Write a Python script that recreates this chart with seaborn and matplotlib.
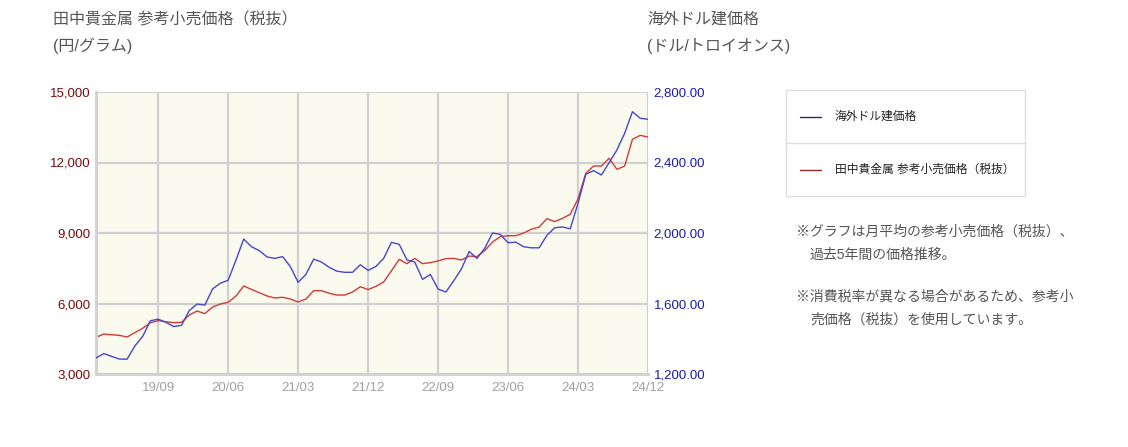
import numpy as np
import pandas as pd
import matplotlib
matplotlib.use("Agg")
import matplotlib.pyplot as plt
from matplotlib.lines import Line2D
from matplotlib.patches import Rectangle
import seaborn as sns

sns.set_style("white")
plt.rcParams['font.family'] = ['Liberation Sans', 'Noto Sans CJK JP', 'DejaVu Sans']

# monthly data 2019/01 - 2024/12
months = pd.period_range("2019-01", "2024-12", freq="M")

# Tanaka retail price ex-tax (yen/gram)
yen_price = [
    4560, 4700, 4670, 4645, 4575, 4760, 4945, 5180, 5270, 5225, 5185, 5200,
    5510, 5680, 5570, 5850, 5980, 6050, 6320, 6745, 6600, 6460, 6320, 6235,
    6265, 6190, 6065, 6190, 6545, 6545, 6435, 6360, 6360, 6490, 6715, 6590,
    6730, 6915, 7390, 7880, 7695, 7920, 7695, 7740, 7810, 7910, 7920, 7850,
    8020, 7995, 8250, 8615, 8845, 8885, 8885, 9000, 9160, 9255, 9610, 9485,
    9625, 9795, 10450, 11540, 11850, 11850, 12180, 11710, 11850, 12985, 13155, 13085,
]

# overseas USD price (USD/troy ounce)
usd_price = [
    1291, 1316, 1300, 1285, 1284, 1359, 1413, 1502, 1511, 1493, 1469, 1476,
    1560, 1597, 1591, 1683, 1715, 1732, 1846, 1966, 1922, 1900, 1864, 1856,
    1866, 1809, 1720, 1765, 1852, 1835, 1805, 1783, 1777, 1777, 1820, 1788,
    1810, 1856, 1947, 1936, 1847, 1835, 1737, 1765, 1682, 1665, 1728, 1796,
    1895, 1856, 1913, 2000, 1992, 1945, 1948, 1922, 1916, 1916, 1987, 2030,
    2034, 2024, 2169, 2333, 2354, 2329, 2399, 2471, 2566, 2688, 2651, 2645,
]

x_ticks = [8, 17, 26, 35, 44, 53, 62, 71]
x_labels = [months[i].strftime("%y/%m") for i in x_ticks]
yen_ticks = [3000, 6000, 9000, 12000, 15000]
usd_ticks = [1200, 1600, 2000, 2400, 2800]

df = pd.DataFrame({"idx": np.arange(len(months)), "yen": yen_price, "usd": usd_price})

fig = plt.figure(figsize=(11.28, 4.47), dpi=100)
ax = fig.add_axes([96 / 1128, 73 / 447, 552 / 1128, 282 / 447])
ax.set_facecolor("#fafaee")
ax2 = ax.twinx()

grid_c = "#d0d0d0"
sns.lineplot(data=df, x="idx", y="yen", ax=ax, color="#d23a3a", lw=1.0)
sns.lineplot(data=df, x="idx", y="usd", ax=ax2, color="#4646d2", lw=1.0)

ax.set_xlim(0, len(months) - 1)
ax.set_ylim(3000, 15000)
ax2.set_ylim(1200, 2800)
ax.set_xticks(x_ticks)
ax.set_xticklabels(x_labels)
ax.set_yticks(yen_ticks)
ax.set_yticklabels([f"{v:,}" for v in yen_ticks])
ax2.set_yticks(usd_ticks)
ax2.set_yticklabels([f"{v:,.2f}" for v in usd_ticks])
ax.set_xlabel("")
ax.set_ylabel("")
ax2.set_ylabel("")

ax.grid(True, color=grid_c, lw=1.6)
ax.set_axisbelow(True)
for a in (ax, ax2):
    for s in a.spines.values():
        s.set_visible(False)
ax.spines["left"].set_visible(True)
ax.spines["left"].set_color(grid_c)
ax.spines["left"].set_linewidth(2)
ax.spines["bottom"].set_visible(True)
ax.spines["bottom"].set_color(grid_c)
ax.spines["bottom"].set_linewidth(2)

ax.tick_params(axis="x", length=0, pad=6, labelsize=9.5, labelcolor="#a0a0a0")
ax.tick_params(axis="y", length=0, pad=4, labelsize=9.5, labelcolor="#7a0a0a")
ax2.tick_params(axis="y", length=0, pad=4, labelsize=9.5, labelcolor="#1a1aaa")

title_c = "#555555"
fig.text(53 / 1128, 1 - 20 / 447, "田中貴金属 参考小売価格（税抜）", fontsize=11.5,
         color=title_c, va="center")
fig.text(53 / 1128, 1 - 46 / 447, "(円/グラム)", fontsize=11.5, color=title_c, va="center")
fig.text(647 / 1128, 1 - 20 / 447, "海外ドル建価格", fontsize=11.5, color=title_c, va="center")
fig.text(647 / 1128, 1 - 46 / 447, "(ドル/トロイオンス)", fontsize=11.5, color=title_c, va="center")

# legend box
box_c = "#dddddd"
fig.patches.append(Rectangle((786 / 1128, 1 - 196 / 447), 239 / 1128, 106 / 447,
                             transform=fig.transFigure, fill=False, ec=box_c, lw=1))
fig.lines.append(Line2D([786 / 1128, 1025 / 1128], [1 - 143 / 447] * 2,
                        transform=fig.transFigure, color=box_c, lw=1))
legend_items = [("海外ドル建価格", "#1a2a8a", 117), ("田中貴金属 参考小売価格（税抜）", "#8a2a2a", 170)]
for label, c, yy in legend_items:
    fig.lines.append(Line2D([800 / 1128, 821 / 1128], [1 - yy / 447] * 2,
                            transform=fig.transFigure, color=c, lw=1))
    fig.text(835 / 1128, 1 - yy / 447, label, fontsize=8.5, color="#222222", va="center")

notes = [
    (796, 232, "※グラフは月平均の参考小売価格（税抜）、"),
    (810, 255, "過去5年間の価格推移。"),
    (796, 297, "※消費税率が異なる場合があるため、参考小"),
    (810, 320, "売価格（税抜）を使用しています。"),
]
for xx, yy, t in notes:
    fig.text(xx / 1128, 1 - yy / 447, t, fontsize=10, color=title_c, va="center")

fig.savefig("out.png", dpi=100, facecolor="white")
